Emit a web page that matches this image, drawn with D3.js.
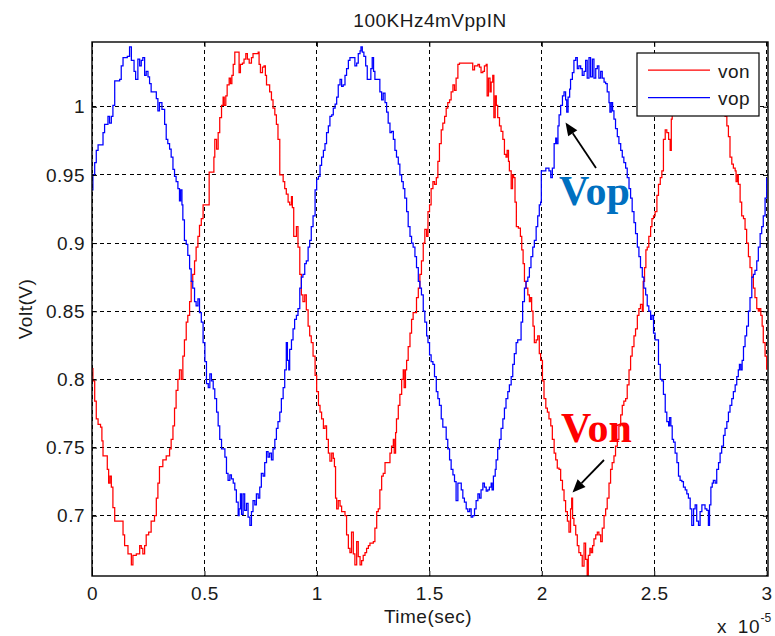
<!DOCTYPE html>
<html>
<head>
<meta charset="utf-8">
<script src="https://cdn.jsdelivr.net/npm/d3@7"></script>
<style>
  html, body { margin: 0; padding: 0; background: #fff; }
  svg { display: block; }
  .lbl { font-family: "Liberation Sans", Arial, Helvetica, sans-serif; fill: #1a1a1a; font-size: 19px; letter-spacing: 0.5px; }
</style>
</head>
<body>
<svg id="chart" width="775" height="636"></svg>
<script>
// ---- chart content ----
const chartTitle = "100KHz4mVppIN";
const xAxisTitle = "Time(sec)";
const yAxisTitle = "Volt(V)";
const xTicks = [0, 0.5, 1, 1.5, 2, 2.5, 3];
const xTickLabels = ["0", "0.5", "1", "1.5", "2", "2.5", "3"];
const yTicks = [0.7, 0.75, 0.8, 0.85, 0.9, 0.95, 1];
const yTickLabels = ["0.7", "0.75", "0.8", "0.85", "0.9", "0.95", "1"];
const seriesNames = ["von", "vop"];
const seriesColors = ["#ff0000", "#0000ff"];

// [time (x1e-5 s), volt]
const vonSamples = [
  [0.000,0.808],[0.004,0.799],[0.012,0.784],[0.019,0.771],[0.027,0.767],[0.038,0.765],[0.044,0.755],[0.049,0.744],[0.064,0.744],[0.068,0.734],[0.074,0.724],[0.080,0.729],[0.086,0.721],[0.093,0.706],[0.101,0.696],[0.130,0.696],[0.138,0.686],[0.145,0.678],[0.160,0.672],[0.175,0.664],[0.182,0.671],[0.197,0.672],[0.212,0.678],[0.219,0.676],[0.226,0.672],[0.234,0.678],[0.241,0.686],[0.252,0.688],[0.263,0.696],[0.278,0.700],[0.286,0.713],[0.293,0.724],[0.300,0.736],[0.315,0.741],[0.330,0.744],[0.345,0.749],[0.352,0.756],[0.360,0.766],[0.367,0.779],[0.374,0.792],[0.382,0.800],[0.389,0.807],[0.397,0.800],[0.404,0.817],[0.411,0.829],[0.419,0.842],[0.426,0.847],[0.434,0.857],[0.441,0.872],[0.448,0.877],[0.456,0.887],[0.463,0.897],[0.471,0.905],[0.478,0.913],[0.486,0.918],
  [0.494,0.928],[0.521,0.952],[0.536,0.952],[0.542,0.963],[0.546,0.976],[0.554,0.969],[0.561,0.981],[0.568,0.992],[0.576,1.001],[0.583,1.007],[0.588,1.001],[0.595,1.008],[0.601,1.016],[0.610,1.021],[0.616,1.017],[0.622,1.023],[0.628,1.031],[0.635,1.040],[0.650,1.040],[0.654,1.025],[0.660,1.031],[0.669,1.032],[0.676,1.035],[0.684,1.039],[0.691,1.035],[0.699,1.032],[0.709,1.036],[0.716,1.039],[0.739,1.040],[0.743,1.031],[0.749,1.025],[0.758,1.029],[0.765,1.030],[0.771,1.023],[0.776,1.016],[0.790,1.011],[0.798,1.005],[0.805,0.999],[0.813,0.994],[0.820,0.987],[0.827,0.976],[0.835,0.950],[0.850,0.945],[0.857,0.940],[0.864,0.936],[0.872,0.930],[0.879,0.928],[0.887,0.934],[0.891,0.926],[0.897,0.905],[0.909,0.912],[0.916,0.897],[0.924,0.877],[0.931,0.862],[0.938,0.857],[0.946,0.862],[0.953,0.851],[0.961,0.839],[0.968,0.832],[0.975,0.827],[0.983,0.817],
  [0.992,0.803],[0.999,0.791],[1.007,0.781],[1.014,0.776],[1.021,0.771],[1.029,0.764],[1.036,0.766],[1.043,0.756],[1.051,0.746],[1.058,0.740],[1.066,0.746],[1.073,0.742],[1.078,0.736],[1.083,0.713],[1.088,0.705],[1.095,0.711],[1.103,0.707],[1.110,0.703],[1.125,0.700],[1.132,0.686],[1.140,0.676],[1.147,0.673],[1.154,0.688],[1.162,0.672],[1.169,0.664],[1.177,0.681],[1.184,0.670],[1.192,0.664],[1.199,0.667],[1.206,0.671],[1.214,0.673],[1.221,0.676],[1.229,0.678],[1.236,0.680],[1.251,0.681],[1.258,0.691],[1.266,0.703],[1.273,0.705],[1.280,0.719],[1.288,0.729],[1.295,0.731],[1.303,0.739],[1.325,0.746],[1.332,0.751],[1.340,0.756],[1.344,0.746],[1.350,0.761],[1.354,0.771],[1.362,0.781],[1.369,0.789],[1.377,0.800],[1.384,0.807],[1.388,0.794],[1.394,0.807],[1.399,0.814],[1.406,0.824],[1.414,0.834],[1.421,0.844],[1.428,0.849],[1.443,0.860],[1.451,0.867],[1.458,0.877],[1.465,0.887],[1.473,0.900],[1.480,0.910],[1.488,0.905],
  [1.494,0.923],[1.501,0.928],[1.508,0.940],[1.516,0.945],[1.523,0.943],[1.531,0.948],[1.538,0.960],[1.545,0.973],[1.553,0.983],[1.560,0.988],[1.568,0.993],[1.575,0.999],[1.582,1.003],[1.590,1.005],[1.597,1.011],[1.605,1.016],[1.612,1.012],[1.619,1.021],[1.627,1.031],[1.634,1.032],[1.686,1.032],[1.693,1.027],[1.701,1.030],[1.716,1.031],[1.723,1.029],[1.730,1.025],[1.738,1.026],[1.745,1.030],[1.753,1.031],[1.757,1.008],[1.763,1.021],[1.770,1.011],[1.775,1.018],[1.782,1.023],[1.787,0.992],[1.793,1.008],[1.798,1.001],[1.804,0.992],[1.812,0.986],[1.819,0.982],[1.827,0.976],[1.834,0.965],[1.841,0.963],[1.846,0.968],[1.852,0.960],[1.856,0.953],[1.864,0.940],[1.870,0.950],[1.875,0.948],[1.881,0.930],[1.887,0.912],[1.896,0.911],[1.905,0.905],[1.911,0.895],[1.917,0.885],[1.923,0.872],[1.930,0.867],[1.938,0.862],[1.945,0.857],[1.949,0.860],[1.955,0.850],[1.961,0.839],[1.967,0.827],[1.975,0.829],[1.982,0.832],[1.989,0.819],
  [1.995,0.814],[2.003,0.799],[2.010,0.786],[2.018,0.779],[2.025,0.776],[2.032,0.771],[2.040,0.766],[2.047,0.756],[2.055,0.746],[2.062,0.741],[2.069,0.735],[2.077,0.734],[2.084,0.726],[2.092,0.719],[2.099,0.711],[2.106,0.703],[2.114,0.696],[2.121,0.688],[2.128,0.705],[2.133,0.713],[2.137,0.698],[2.143,0.693],[2.151,0.686],[2.158,0.678],[2.165,0.673],[2.173,0.671],[2.180,0.663],[2.188,0.680],[2.195,0.668],[2.202,0.656],[2.207,0.671],[2.214,0.676],[2.220,0.673],[2.226,0.678],[2.232,0.683],[2.240,0.686],[2.247,0.688],[2.254,0.686],[2.262,0.681],[2.269,0.691],[2.277,0.700],[2.284,0.705],[2.291,0.713],[2.299,0.724],[2.306,0.734],[2.313,0.739],[2.321,0.744],[2.328,0.751],[2.336,0.756],[2.343,0.766],[2.351,0.774],[2.358,0.781],[2.365,0.784],[2.373,0.786],[2.380,0.796],[2.388,0.807],[2.395,0.817],[2.402,0.824],[2.410,0.832],[2.417,0.837],[2.425,0.847],[2.432,0.852],[2.439,0.855],[2.447,0.850],[2.451,0.872],[2.457,0.882],[2.463,0.895],[2.469,0.897],[2.476,0.905],[2.484,0.912],
  [2.490,0.918],[2.497,0.920],[2.504,0.923],[2.512,0.935],[2.519,0.943],[2.527,0.948],[2.534,0.953],[2.541,0.976],[2.549,0.983],[2.556,0.981],[2.564,0.976],[2.571,0.968],[2.576,0.991],[2.580,0.998],[2.593,1.005],[2.610,1.015],[2.630,1.025],[2.650,1.033],[2.670,1.038],[2.700,1.036],[2.730,1.033],[2.760,1.025],[2.780,1.012],[2.797,1.002],[2.808,0.996],[2.815,0.993],[2.823,0.986],[2.830,0.978],[2.837,0.963],[2.845,0.958],[2.852,0.955],[2.860,0.953],[2.864,0.945],[2.870,0.950],[2.874,0.943],[2.882,0.930],[2.889,0.920],[2.897,0.918],[2.904,0.910],[2.911,0.900],[2.919,0.890],[2.926,0.882],[2.934,0.875],[2.941,0.867],[2.948,0.860],[2.956,0.852],[2.963,0.850],[2.968,0.852],[2.974,0.847],[2.980,0.839],[2.985,0.827],[2.993,0.817],[3.000,0.807]
];

const vopSamples = [
  [0.000,0.939],[0.004,0.950],[0.012,0.959],[0.019,0.968],[0.027,0.972],[0.041,0.972],[0.049,0.981],[0.056,0.987],[0.071,0.993],[0.078,0.988],[0.086,0.993],[0.093,1.001],[0.101,1.019],[0.123,1.020],[0.130,1.030],[0.138,1.036],[0.157,1.037],[0.167,1.044],[0.175,1.034],[0.187,1.026],[0.194,1.020],[0.204,1.035],[0.212,1.030],[0.219,1.034],[0.226,1.036],[0.234,1.023],[0.241,1.026],[0.249,1.022],[0.256,1.017],[0.263,1.011],[0.278,1.011],[0.286,1.006],[0.293,0.997],[0.300,1.003],[0.311,0.998],[0.323,0.987],[0.330,0.976],[0.337,0.973],[0.345,0.969],[0.352,0.963],[0.360,0.954],[0.367,0.949],[0.374,0.945],[0.382,0.940],[0.389,0.931],[0.394,0.939],[0.400,0.928],[0.404,0.917],[0.411,0.902],[0.419,0.899],[0.426,0.891],[0.434,0.881],[0.441,0.872],[0.448,0.867],[0.456,0.857],[0.463,0.854],[0.471,0.859],[0.478,0.849],[0.486,0.842],
  [0.494,0.827],[0.502,0.813],[0.509,0.797],[0.517,0.794],[0.524,0.804],[0.531,0.799],[0.539,0.793],[0.546,0.786],[0.554,0.776],[0.561,0.766],[0.568,0.756],[0.576,0.749],[0.591,0.743],[0.598,0.731],[0.605,0.726],[0.613,0.730],[0.620,0.727],[0.628,0.724],[0.635,0.719],[0.642,0.710],[0.650,0.700],[0.654,0.705],[0.660,0.716],[0.665,0.701],[0.672,0.716],[0.679,0.704],[0.687,0.709],[0.694,0.699],[0.702,0.693],[0.709,0.703],[0.716,0.711],[0.724,0.708],[0.731,0.716],[0.739,0.713],[0.746,0.721],[0.753,0.731],[0.761,0.729],[0.768,0.739],[0.776,0.747],[0.783,0.743],[0.790,0.746],[0.798,0.741],[0.805,0.749],[0.813,0.756],[0.820,0.764],[0.827,0.769],[0.835,0.776],[0.842,0.786],[0.850,0.794],[0.857,0.807],[0.864,0.827],[0.869,0.814],[0.875,0.807],[0.879,0.822],[0.887,0.829],[0.894,0.837],[0.901,0.844],[0.909,0.847],[0.916,0.852],[0.924,0.867],[0.931,0.875],[0.938,0.877],[0.946,0.885],[0.953,0.887],[0.961,0.897],[0.968,0.902],[0.975,0.912],[0.983,0.920],
  [0.992,0.939],[0.999,0.947],[1.007,0.949],[1.014,0.957],[1.021,0.963],[1.029,0.968],[1.036,0.973],[1.043,0.981],[1.051,0.986],[1.058,0.993],[1.066,0.994],[1.073,0.999],[1.081,1.002],[1.088,1.007],[1.095,1.016],[1.103,1.020],[1.110,1.015],[1.117,1.016],[1.125,1.023],[1.132,1.028],[1.140,1.034],[1.147,1.036],[1.162,1.036],[1.169,1.030],[1.177,1.032],[1.184,1.039],[1.192,1.041],[1.196,1.044],[1.202,1.040],[1.209,1.037],[1.217,1.030],[1.224,1.020],[1.236,1.020],[1.240,1.028],[1.246,1.036],[1.252,1.026],[1.258,1.020],[1.273,1.020],[1.280,1.011],[1.288,1.005],[1.295,1.010],[1.303,1.003],[1.310,0.996],[1.317,0.988],[1.325,0.981],[1.332,0.982],[1.340,0.976],[1.347,0.968],[1.354,0.963],[1.362,0.958],[1.369,0.950],[1.377,0.945],[1.384,0.940],[1.391,0.933],[1.399,0.923],[1.406,0.912],[1.414,0.905],[1.421,0.900],[1.428,0.897],[1.436,0.890],[1.443,0.882],[1.451,0.872],[1.458,0.867],[1.465,0.862],[1.473,0.850],[1.480,0.842],[1.488,0.832],
  [1.494,0.827],[1.501,0.818],[1.508,0.813],[1.516,0.811],[1.523,0.802],[1.531,0.791],[1.538,0.786],[1.545,0.781],[1.553,0.771],[1.560,0.765],[1.575,0.756],[1.582,0.749],[1.590,0.741],[1.597,0.734],[1.605,0.730],[1.612,0.725],[1.619,0.711],[1.627,0.724],[1.642,0.719],[1.649,0.713],[1.656,0.710],[1.664,0.705],[1.671,0.703],[1.679,0.705],[1.686,0.699],[1.693,0.700],[1.701,0.705],[1.708,0.711],[1.716,0.716],[1.723,0.713],[1.730,0.719],[1.738,0.724],[1.745,0.721],[1.753,0.718],[1.760,0.719],[1.767,0.721],[1.775,0.724],[1.779,0.719],[1.785,0.729],[1.793,0.734],[1.797,0.741],[1.804,0.749],[1.812,0.756],[1.819,0.764],[1.827,0.771],[1.834,0.779],[1.841,0.786],[1.849,0.791],[1.856,0.796],[1.864,0.802],[1.871,0.811],[1.878,0.819],[1.886,0.827],[1.893,0.829],[1.908,0.842],[1.915,0.857],[1.923,0.867],[1.930,0.872],[1.938,0.875],[1.945,0.882],[1.952,0.890],[1.960,0.897],[1.967,0.902],[1.975,0.912],[1.982,0.920],[1.989,0.928],
  [1.995,0.930],[1.998,0.953],[2.018,0.955],[2.032,0.953],[2.040,0.948],[2.047,0.955],[2.055,0.973],[2.062,0.977],[2.066,0.973],[2.072,0.986],[2.077,0.994],[2.084,1.001],[2.092,1.008],[2.099,1.011],[2.106,1.005],[2.111,0.996],[2.117,1.007],[2.124,1.013],[2.128,1.020],[2.136,1.025],[2.143,1.034],[2.151,1.036],[2.158,1.028],[2.165,1.030],[2.173,1.028],[2.180,1.023],[2.188,1.026],[2.195,1.034],[2.202,1.021],[2.210,1.036],[2.217,1.022],[2.225,1.035],[2.232,1.021],[2.240,1.028],[2.247,1.030],[2.254,1.021],[2.262,1.026],[2.269,1.021],[2.277,1.018],[2.284,1.017],[2.291,1.011],[2.299,1.003],[2.303,0.996],[2.309,1.003],[2.315,0.997],[2.321,0.991],[2.328,0.984],[2.336,0.978],[2.343,0.973],[2.351,0.968],[2.358,0.963],[2.365,0.959],[2.373,0.955],[2.380,0.948],[2.388,0.940],[2.395,0.933],[2.402,0.923],[2.410,0.915],[2.417,0.907],[2.425,0.897],[2.432,0.890],[2.439,0.882],[2.447,0.875],[2.454,0.867],[2.462,0.862],[2.469,0.854],[2.476,0.850],[2.484,0.844],
  [2.490,0.847],[2.497,0.834],[2.504,0.829],[2.519,0.811],[2.527,0.800],[2.534,0.799],[2.541,0.789],[2.549,0.776],[2.556,0.769],[2.564,0.766],[2.568,0.772],[2.574,0.766],[2.580,0.756],[2.586,0.754],[2.593,0.746],[2.601,0.739],[2.608,0.729],[2.615,0.726],[2.623,0.725],[2.630,0.721],[2.638,0.719],[2.645,0.716],[2.652,0.713],[2.660,0.705],[2.667,0.693],[2.675,0.705],[2.682,0.708],[2.689,0.696],[2.697,0.693],[2.704,0.703],[2.712,0.708],[2.726,0.705],[2.734,0.704],[2.741,0.693],[2.746,0.708],[2.752,0.721],[2.758,0.724],[2.763,0.726],[2.771,0.724],[2.778,0.734],[2.786,0.739],[2.793,0.746],[2.800,0.751],[2.808,0.759],[2.815,0.764],[2.823,0.769],[2.830,0.776],[2.837,0.781],[2.845,0.786],[2.852,0.791],[2.860,0.796],[2.867,0.802],[2.874,0.807],[2.879,0.811],[2.885,0.807],[2.891,0.814],[2.897,0.824],[2.904,0.832],[2.911,0.839],[2.919,0.850],[2.926,0.860],[2.934,0.875],[2.941,0.877],[2.948,0.880],[2.956,0.887],[2.963,0.897],[2.971,0.907],[2.978,0.912],[2.985,0.920],[2.993,0.933],[3.000,0.948]
];

// ---- layout ----
const plot = { left: 92, right: 768, top: 42, bottom: 576 };
const svg = d3.select("#chart");

const x = d3.scaleLinear().domain([0, 3.006]).range([plot.left, plot.right]);
const y = d3.scaleLinear().domain([0.6558, 1.0475]).range([plot.bottom, plot.top]);

svg.append("rect").attr("width", 775).attr("height", 636).attr("fill", "#fff");

svg.append("defs").append("clipPath").attr("id", "plotClip")
  .append("rect")
  .attr("x", plot.left).attr("y", plot.top)
  .attr("width", plot.right - plot.left).attr("height", plot.bottom - plot.top);

// dashed grid
const grid = svg.append("g").attr("stroke", "#000").attr("stroke-width", 1)
  .attr("stroke-dasharray", "4,3.5").attr("shape-rendering", "crispEdges");
grid.selectAll("line.gx").data(xTicks).join("line").attr("class", "gx")
  .attr("x1", d => x(d)).attr("x2", d => x(d))
  .attr("y1", plot.top).attr("y2", plot.bottom);
grid.selectAll("line.gy").data(yTicks).join("line").attr("class", "gy")
  .attr("x1", plot.left).attr("x2", plot.right)
  .attr("y1", d => y(d)).attr("y2", d => y(d));

// traces
const line = d3.line().x(d => x(d[0])).y(d => y(d[1])).curve(d3.curveStepAfter);
const traces = [vonSamples, vopSamples];
svg.append("g").attr("clip-path", "url(#plotClip)")
  .selectAll("path").data(traces).join("path")
  .attr("d", line)
  .attr("fill", "none")
  .attr("stroke", (d, i) => seriesColors[i])
  .attr("stroke-width", 1.25)
  .attr("stroke-linejoin", "miter");

// axes with inward ticks
const fmtX = (d) => xTickLabels[xTicks.indexOf(d)];
const fmtY = (d) => yTickLabels[yTicks.indexOf(d)];

const axB = svg.append("g").attr("transform", `translate(0,${plot.bottom})`)
  .call(d3.axisBottom(x).tickValues(xTicks).tickFormat(fmtX).tickSizeInner(-5).tickSizeOuter(0).tickPadding(10.5));
const axT = svg.append("g").attr("transform", `translate(0,${plot.top})`)
  .call(d3.axisTop(x).tickValues(xTicks).tickFormat("").tickSizeInner(-5).tickSizeOuter(0));
const axL = svg.append("g").attr("transform", `translate(${plot.left},0)`)
  .call(d3.axisLeft(y).tickValues(yTicks).tickFormat(fmtY).tickSizeInner(-5).tickSizeOuter(0).tickPadding(7));
const axR = svg.append("g").attr("transform", `translate(${plot.right},0)`)
  .call(d3.axisRight(y).tickValues(yTicks).tickFormat("").tickSizeInner(-5).tickSizeOuter(0));

[axB, axT, axL, axR].forEach(g => {
  g.select(".domain").remove();
  g.selectAll(".tick line").attr("stroke", "#000").attr("stroke-width", 1);
  g.selectAll("text").attr("class", "lbl").attr("fill", null)
    .attr("font-size", null).attr("font-family", null);
});

// axes box
svg.append("rect")
  .attr("x", plot.left).attr("y", plot.top)
  .attr("width", plot.right - plot.left).attr("height", plot.bottom - plot.top)
  .attr("fill", "none").attr("stroke", "#000").attr("stroke-width", 1.4);

// titles
svg.append("text").attr("class", "lbl").attr("x", 430).attr("y", 27)
  .attr("text-anchor", "middle").text(chartTitle);
svg.append("text").attr("class", "lbl").attr("x", 428).attr("y", 623)
  .attr("text-anchor", "middle").text(xAxisTitle);
svg.append("text").attr("class", "lbl")
  .attr("transform", "translate(32,309) rotate(-90)")
  .attr("text-anchor", "middle").text(yAxisTitle);

// x-axis exponent
svg.append("text").attr("class", "lbl").attr("x", 717).attr("y", 633).text("x");
svg.append("text").attr("class", "lbl").attr("x", 760).attr("y", 633)
  .attr("text-anchor", "end").text("10");
svg.append("text").attr("class", "lbl").attr("x", 760.5).attr("y", 622)
  .style("font-size", "12px").style("letter-spacing", "0px").text("-5");

// legend
const legend = svg.append("g");
legend.append("rect").attr("x", 637).attr("y", 53).attr("width", 122).attr("height", 63)
  .attr("fill", "#fff").attr("stroke", "#000").attr("stroke-width", 1.2);
const legendRows = [70, 97.5];
seriesNames.forEach((name, i) => {
  legend.append("line").attr("x1", 648).attr("x2", 710)
    .attr("y1", legendRows[i]).attr("y2", legendRows[i])
    .attr("stroke", seriesColors[i]).attr("stroke-width", 1.25);
  legend.append("text").attr("class", "lbl").attr("x", 718).attr("y", legendRows[i] + 7.5)
    .text(name);
});

// callouts
const callouts = [
  { label: "Vop", color: "#0070c0", tx: 559, ty: 205, from: [596, 168], to: [565.5, 122.5] },
  { label: "Von", color: "#ff0000", tx: 561, ty: 442, from: [604, 460], to: [572.5, 492.5] }
];
callouts.forEach(c => {
  svg.append("text").attr("x", c.tx).attr("y", c.ty)
    .attr("font-family", "'Liberation Serif', 'Times New Roman', serif")
    .attr("font-weight", "bold").attr("font-size", 42).attr("fill", c.color)
    .text(c.label);
  const [x0, y0] = c.from, [x1, y1] = c.to;
  const ang = Math.atan2(y1 - y0, x1 - x0);
  const hl = 13, hw = 5.5;
  const bx = x1 - hl * Math.cos(ang), by = y1 - hl * Math.sin(ang);
  svg.append("line").attr("x1", x0).attr("y1", y0).attr("x2", bx).attr("y2", by)
    .attr("stroke", "#000").attr("stroke-width", 1.8);
  const px = -Math.sin(ang), py = Math.cos(ang);
  svg.append("path")
    .attr("d", `M${x1},${y1}L${bx + hw * px},${by + hw * py}L${bx - hw * px},${by - hw * py}Z`)
    .attr("fill", "#000");
});
</script>
</body>
</html>
